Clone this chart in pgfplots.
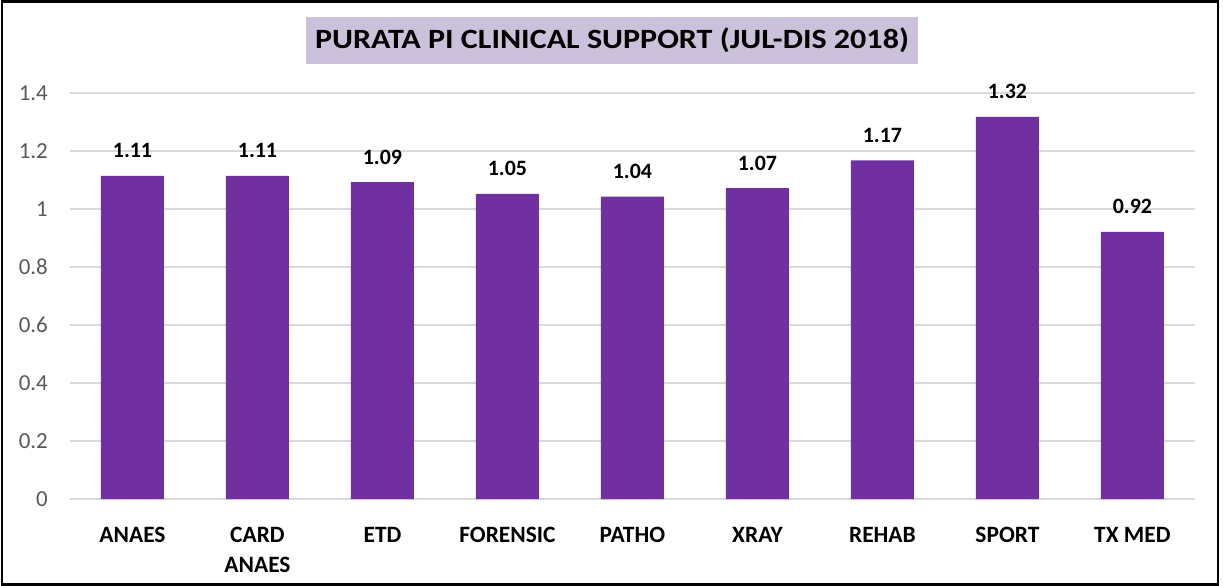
\documentclass[border=0pt]{standalone}
\usepackage{graphicx}
\usepackage{pgfplots}
\pgfplotsset{compat=1.18}
\usepackage{fontspec}
\setmainfont{Carlito}
\definecolor{barpurple}{HTML}{7030A0}
\definecolor{titlebox}{HTML}{CCC1DA}
\definecolor{gridgray}{HTML}{D9D9D9}
\definecolor{ticktext}{HTML}{595959}
\begin{document}
\begin{tikzpicture}
\useasboundingbox (0bp,0bp) rectangle (1223bp,586bp);
\fill[white] (0bp,0bp) rectangle (1223bp,586bp);
\draw[line width=2.2bp, black] (2bp,1.5bp) rectangle (1218bp,584.5bp);
\node[fill=titlebox, minimum width=612bp, minimum height=47bp, inner sep=0pt,
      font=\fontsize{28}{32}\selectfont\bfseries] at (612bp,545.5bp)
      {\scalebox{1.15}[1]{PURATA PI CLINICAL SUPPORT (JUL-DIS 2018)}};
\begin{axis}[
  at={(70bp,87bp)}, anchor=south west,
  scale only axis, width=1125bp, height=406bp,
  ymin=0, ymax=1.4, ytick={0,0.2,...,1.41},
  xmin=-0.5, xmax=8.5,
  xtick={0,...,8},
  xticklabels={ANAES,{CARD\\ANAES},ETD,FORENSIC,PATHO,XRAY,REHAB,SPORT,TX MED},
  /pgf/number format/assume math mode=true,
  ymajorgrids, grid style={gridgray, line width=1.5bp},
  axis line style={draw=none},
  tick style={draw=none},
  yticklabel style={font=\fontsize{23}{26}\selectfont, text=ticktext, anchor=east, inner sep=0pt, xshift=-22bp},
  xticklabel style={font=\fontsize{23.5}{30}\selectfont\bfseries, text=black, anchor=north, inner sep=0pt, yshift=-24bp, align=center},
  ybar, bar width=63bp,
  nodes near coords,
  nodes near coords style={font=\fontsize{22}{25}\selectfont\bfseries, text=black, anchor=base, inner sep=0pt, yshift=18bp,
    /pgf/number format/.cd, fixed, fixed zerofill, precision=2},
  clip=false,
]
\addplot[fill=barpurple, draw=none] coordinates {
 (0,1.114) (1,1.114) (2,1.093) (3,1.052) (4,1.043) (5,1.072) (6,1.168) (7,1.318) (8,0.921)
};
\end{axis}
\end{tikzpicture}
\end{document}
